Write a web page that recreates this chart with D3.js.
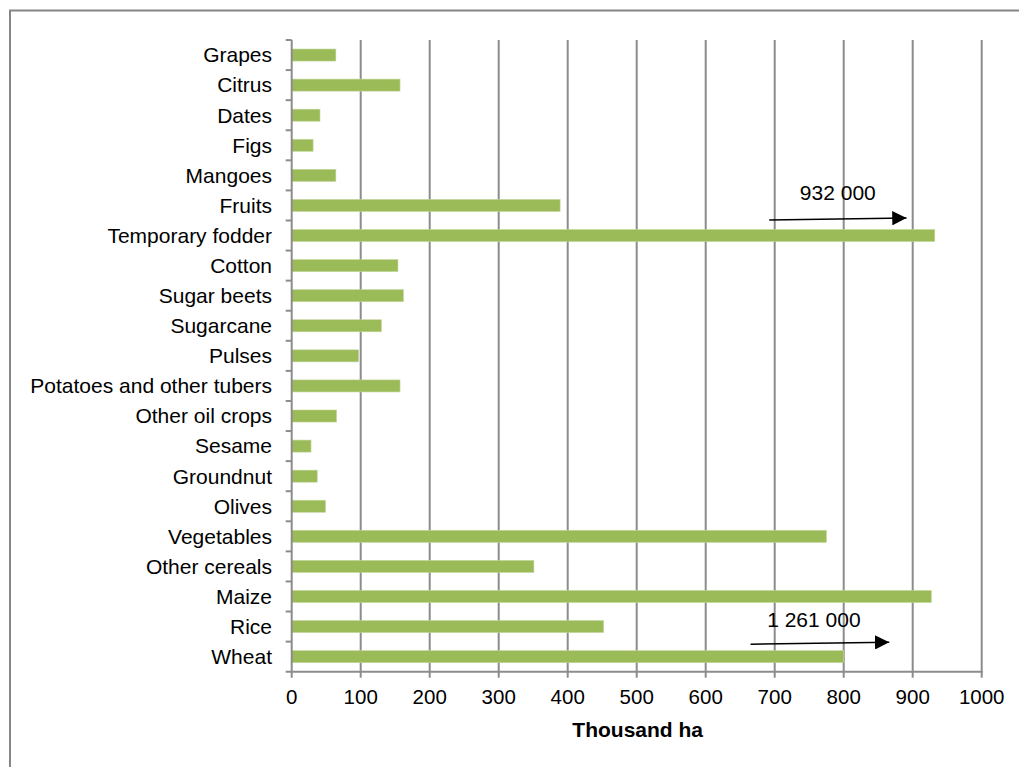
<!DOCTYPE html>
<html>
<head>
<meta charset="utf-8">
<script src="https://cdn.jsdelivr.net/npm/d3@7"></script>
<style>
  html, body { margin: 0; padding: 0; background: #fff; }
  svg { display: block; font-family: "Liberation Sans", Arial, sans-serif; }
</style>
</head>
<body>
<svg id="chart" width="1019" height="767"></svg>
<script>
// crops, top to bottom as drawn
const crops = [
  'Grapes', 'Citrus', 'Dates', 'Figs', 'Mangoes', 'Fruits', 'Temporary fodder',
  'Cotton', 'Sugar beets', 'Sugarcane', 'Pulses', 'Potatoes and other tubers',
  'Other oil crops', 'Sesame', 'Groundnut', 'Olives', 'Vegetables',
  'Other cereals', 'Maize', 'Rice', 'Wheat'
];
// thousand ha (wheat bar is cut at 800, real value in the note)
const area = [
  64, 157, 41, 31, 64, 389, 932,
  154, 162, 130, 97, 157,
  65, 28, 37, 49, 775,
  351, 927, 452, 800
];
const xTicks = [0, 100, 200, 300, 400, 500, 600, 700, 800, 900, 1000];
const xTitle = 'Thousand ha';

// off-scale notes
const noteCrops  = ['Temporary fodder', 'Wheat'];
const noteLabels = ['932 000', '1 261 000'];
const noteFrom   = [692, 665];
const noteTo     = [891, 866];

const W = 1019, H = 767;
const pLeft = 291.7, pRight = 981.7, pTop = 40, pBottom = 671.7;
const grey = '#8c8c8c';

const svg = d3.select('#chart');

// outer frame, runs off the right and bottom edge
svg.append('rect')
  .attr('x', 10).attr('y', 10.5)
  .attr('width', W + 20).attr('height', H + 20)
  .attr('fill', 'none').attr('stroke', '#868686').attr('stroke-width', 2);

const x = d3.scaleLinear().domain([0, 1000]).range([pLeft, pRight]);
const y = d3.scaleBand().domain(crops).range([pTop, pBottom]).paddingInner(0.6).paddingOuter(0.3);
const yb = d3.scaleBand().domain(crops).range([pTop, pBottom]);

// vertical gridlines
svg.append('g').selectAll('line')
  .data(xTicks.filter(d => d > 0))
  .join('line')
  .attr('x1', d => x(d)).attr('x2', d => x(d))
  .attr('y1', pTop).attr('y2', pBottom)
  .attr('stroke', grey).attr('stroke-width', 2);

// bars
svg.append('g').selectAll('rect')
  .data(crops)
  .join('rect')
  .attr('x', x(0))
  .attr('y', d => y(d))
  .attr('width', (d, i) => x(area[i]) - x(0))
  .attr('height', y.bandwidth())
  .attr('fill', '#9bbb59')
  .attr('stroke', '#c3d69b').attr('stroke-width', 0.6);

// y axis: ticks at band boundaries
const yAxis = svg.append('g');
yAxis.append('line')
  .attr('x1', pLeft).attr('x2', pLeft).attr('y1', pTop).attr('y2', pBottom)
  .attr('stroke', grey).attr('stroke-width', 2);
yAxis.selectAll('.yt')
  .data(crops)
  .join('line')
  .attr('class', 'yt')
  .attr('x1', pLeft - 6).attr('x2', pLeft)
  .attr('y1', d => yb(d)).attr('y2', d => yb(d))
  .attr('stroke', grey).attr('stroke-width', 2);
yAxis.selectAll('text')
  .data(crops)
  .join('text')
  .attr('x', 272)
  .attr('y', d => yb(d) + yb.bandwidth() / 2)
  .attr('dy', '0.35em')
  .attr('text-anchor', 'end')
  .attr('font-size', 21)
  .attr('fill', '#000')
  .text(d => d);

// x axis
const xAxis = svg.append('g');
xAxis.append('line')
  .attr('x1', pLeft - 6).attr('x2', pRight + 1).attr('y1', pBottom).attr('y2', pBottom)
  .attr('stroke', grey).attr('stroke-width', 2);
xAxis.selectAll('.xt')
  .data(xTicks)
  .join('line')
  .attr('class', 'xt')
  .attr('x1', d => x(d)).attr('x2', d => x(d))
  .attr('y1', pBottom).attr('y2', pBottom + 6)
  .attr('stroke', grey).attr('stroke-width', 2);
xAxis.selectAll('text')
  .data(xTicks)
  .join('text')
  .attr('x', d => x(d))
  .attr('y', 704)
  .attr('text-anchor', 'middle')
  .attr('font-size', 20.5)
  .attr('fill', '#000')
  .text(d => d);

svg.append('text')
  .attr('x', (pLeft + pRight) / 2 + 1)
  .attr('y', 737)
  .attr('text-anchor', 'middle')
  .attr('font-size', 21)
  .attr('font-weight', 'bold')
  .attr('fill', '#000')
  .text(xTitle);

// arrow notes for the off-scale values
svg.append('defs').append('marker')
  .attr('id', 'arrow')
  .attr('viewBox', '0 0 10 10')
  .attr('refX', 10).attr('refY', 5)
  .attr('markerWidth', 10).attr('markerHeight', 9.5)
  .attr('markerUnits', 'strokeWidth')
  .attr('orient', 'auto')
  .append('path').attr('d', 'M0,0 L10,5 L0,10 Z').attr('fill', '#000');

const notes = svg.append('g');
noteCrops.forEach((c, i) => {
  const cy = yb(c) + yb.bandwidth() / 2;
  const off = i === 0 ? 16.5 : 13.5;
  notes.append('line')
    .attr('x1', x(noteFrom[i])).attr('y1', cy - off + 1)
    .attr('x2', x(noteTo[i])).attr('y2', cy - off - 1)
    .attr('stroke', '#000').attr('stroke-width', 1.5)
    .attr('marker-end', 'url(#arrow)');
  notes.append('text')
    .attr('x', x((noteFrom[i] + noteTo[i]) / 2) + (i === 0 ? 0 : -6))
    .attr('y', cy - off - (i === 0 ? 19 : 16.5))
    .attr('text-anchor', 'middle')
    .attr('font-size', 21)
    .attr('fill', '#000')
    .text(noteLabels[i]);
});
</script>
</body>
</html>
